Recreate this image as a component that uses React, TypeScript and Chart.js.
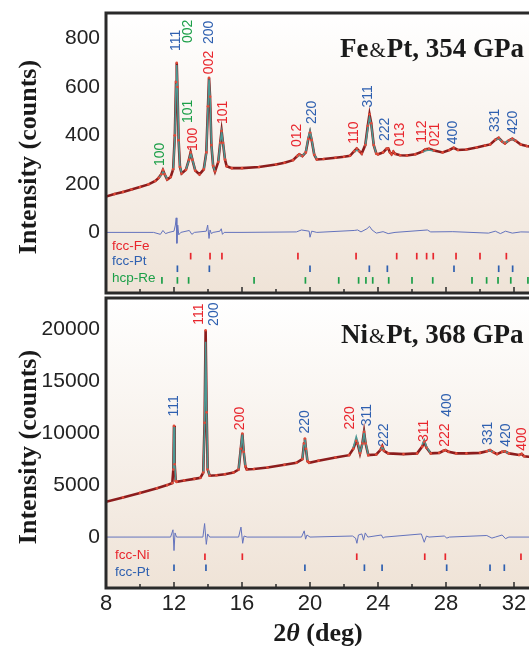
import React, { useEffect, useRef } from 'react';
import { Chart, registerables } from 'chart.js';
Chart.register(...registerables);

// ---------------- Top panel: Fe & Pt, 354 GPa ----------------
const topTheta = [8.0, 8.5, 9.0, 9.5, 10.0, 10.5, 10.9, 11.1, 11.25, 11.35, 11.45, 11.6, 11.8, 11.95, 12.05, 12.12, 12.16, 12.2, 12.27, 12.35, 12.45, 12.7, 12.88, 12.98, 13.08, 13.25, 13.5, 13.75, 13.9, 14.0, 14.06, 14.12, 14.2, 14.3, 14.41, 14.6, 14.72, 14.8, 14.88, 15.0, 15.1, 15.4, 16.0, 17.0, 18.0, 18.5, 19.0, 19.25, 19.37, 19.55, 19.75, 19.9, 20.0, 20.1, 20.25, 20.4, 20.8, 21.5, 22.0, 22.35, 22.6, 22.75, 22.9, 23.04, 23.25, 23.4, 23.5, 23.6, 23.75, 23.9, 24.0, 24.3, 24.5, 24.6, 24.7, 24.8, 24.9, 25.0, 25.3, 25.7, 26.2, 26.6, 26.8, 27.0, 27.3, 27.8, 28.2, 28.45, 28.7, 29.2, 29.8, 30.3, 30.6, 30.9, 31.1, 31.3, 31.47, 31.7, 31.9, 32.1, 32.4, 32.75, 33.2, 33.6, 34.0];
const topObs = [148, 158, 167, 177, 187, 198, 212, 225, 240, 257, 240, 218, 228, 260, 400, 620, 700, 600, 380, 270, 243, 258, 300, 330, 300, 255, 239, 260, 330, 520, 638, 560, 360, 275, 251, 290, 370, 418, 370, 300, 273, 265, 265, 270, 280, 287, 298, 315, 322, 315, 330, 385, 412, 380, 320, 301, 303, 308, 312, 316, 335, 346, 335, 325, 360, 440, 487, 450, 360, 325, 322, 330, 345, 346, 330, 322, 333, 324, 318, 317, 322, 333, 343, 345, 338, 330, 340, 349, 340, 342, 350, 358, 363, 382, 390, 375, 367, 380, 386, 378, 362, 356, 350, 348, 345];
const topCalcTheta = [11.1, 11.25, 11.35, 11.45, 11.6, null, 11.95, 12.05, 12.12, 12.16, 12.2, 12.27, 12.35, 12.45, null, 12.7, 12.88, 12.98, 13.08, 13.25, null, 13.75, 13.9, 14.0, 14.06, 14.12, 14.2, 14.3, 14.41, null, 14.6, 14.72, 14.8, 14.88, 15.0, null, 19.25, 19.37, 19.55, 19.75, 19.9, 20.0, 20.1, 20.25, 20.4, null, 22.6, 22.75, 22.9, null, 23.25, 23.4, 23.5, 23.6, 23.75, 23.9, null, 26.6, 26.8, 27.0, 27.3, null, 30.9, 31.1, 31.3, 31.47, 31.7, 31.9, 32.1];
const topCalc = [224, 238, 250, 242, 220, null, 255, 390, 610, 690, 610, 390, 272, 245, null, 258, 298, 326, 302, 256, null, 258, 325, 515, 632, 565, 365, 278, 252, null, 288, 366, 414, 372, 302, null, 312, 318, 316, 332, 390, 420, 382, 322, 302, null, 330, 340, 334, null, 355, 430, 475, 445, 360, 326, null, 330, 337, 340, 336, null, 380, 388, 376, 368, 380, 385, 378];
const topDiffTheta = [8.0, 10.8, 11.2, 11.35, 11.5, 11.7, 12.0, 12.08, 12.13, 12.17, 12.22, 12.28, 12.4, 12.9, 13.05, 13.2, 13.9, 13.98, 14.06, 14.12, 14.2, 14.3, 14.7, 14.78, 14.85, 14.95, 16.0, 19.2, 19.5, 19.95, 20.0, 20.1, 20.4, 22.6, 22.8, 23.0, 23.35, 23.5, 23.65, 23.9, 24.3, 24.6, 25.0, 26.9, 27.1, 28.4, 30.5, 30.9, 31.2, 31.5, 31.9, 32.4, 34.0];
const topDiff = [0, 0, -8, 8, -5, 0, 5, 30, 60, -45, 30, -10, 0, 8, -8, 0, 5, 30, -25, 10, -5, 0, 5, 15, -8, 0, 0, 2, 10, 5, -20, 5, 0, 8, 10, 2, 15, 25, 10, -3, 3, -5, 0, 10, 2, 3, -3, 5, -5, 5, -3, 2, 0];
const topFeTicks = [12.98, 14.12, 14.82, 19.29, 22.71, 25.1, 26.28, 26.86, 27.25, 28.59, 30.0, 31.55];
const topPtTicks = [12.2, 14.08, 20.0, 23.49, 24.55, 28.47, 31.1, 31.92];
const topReTicks = [11.29, 12.2, 12.86, 16.71, 19.73, 21.69, 22.86, 23.29, 23.69, 24.63, 26.0, 27.22, 29.53, 30.39, 31.06, 31.81, 32.82];
const topTickLevels = [-98, -150, -198];
const topYTicks = [0, 200, 400, 600, 800];
const topHklText = ['100', '111', '002', '101', '100', '200', '002', '101', '012', '220', '110', '311', '222', '013', '112', '021', '400', '331', '420'];
const topHklTheta = [11.18, 12.14, 12.84, 12.84, 13.1, 14.08, 14.06, 14.9, 19.22, 20.1, 22.6, 23.43, 24.41, 25.29, 26.6, 27.39, 28.43, 30.88, 31.96];
const topHklY = [322, 792, 829, 499, 384, 825, 701, 495, 400, 495, 412, 561, 425, 404, 416, 404, 412, 462, 454];
const topHklPhase = ['Re', 'Pt', 'Re', 'Re', 'Fe', 'Pt', 'Fe', 'Fe', 'Fe', 'Pt', 'Fe', 'Pt', 'Pt', 'Fe', 'Fe', 'Fe', 'Pt', 'Pt', 'Pt'];
const topPhaseNames = ['fcc-Fe', 'fcc-Pt', 'hcp-Re'];
const topPhaseKeys = ['Fe', 'Pt', 'Re'];
const topLegendY = [-58, -120, -190];

// ---------------- Bottom panel: Ni & Pt, 368 GPa ----------------
const botTheta = [8.0, 9.0, 10.0, 11.0, 11.6, 11.9, 11.96, 12.0, 12.04, 12.1, 12.16, 12.6, 13.2, 13.55, 13.72, 13.8, 13.86, 13.92, 13.98, 14.1, 14.5, 15.0, 15.5, 15.8, 15.93, 16.02, 16.1, 16.2, 16.28, 16.7, 17.5, 18.5, 19.2, 19.55, 19.65, 19.7, 19.76, 19.85, 19.95, 20.5, 21.5, 22.3, 22.55, 22.72, 22.8, 22.94, 23.08, 23.18, 23.27, 23.43, 23.9, 24.15, 24.25, 24.35, 24.6, 25.5, 26.3, 26.6, 26.72, 26.85, 27.1, 27.6, 27.85, 27.98, 28.15, 28.6, 29.2, 30.0, 30.4, 30.59, 30.8, 31.0, 31.3, 31.47, 31.7, 32.3, 32.45, 32.6, 33.0, 34.0];
const botObs = [3400, 3800, 4250, 4700, 5000, 5200, 6500, 10700, 7000, 5400, 5320, 5450, 5600, 5700, 6200, 11000, 19900, 12000, 6500, 5900, 5950, 6050, 6200, 6500, 8500, 9970, 8200, 6800, 6510, 6550, 6700, 6950, 7150, 7500, 9000, 9490, 8500, 7300, 7150, 7350, 7650, 7880, 8500, 9250, 9000, 8050, 9000, 10130, 9000, 7880, 7950, 8400, 8750, 8300, 8050, 7980, 8050, 8700, 9170, 8600, 8050, 8100, 8300, 8365, 8200, 8050, 8050, 8100, 8250, 8365, 8150, 7980, 8200, 8240, 8050, 7900, 8000, 7780, 7700, 7600];
const botCalcTheta = [11.96, 12.0, 12.04, 12.1, null, 13.72, 13.8, 13.86, 13.92, 13.98, 14.1, null, 15.8, 15.93, 16.02, 16.1, 16.2, null, 19.55, 19.65, 19.7, 19.76, 19.85, null, 22.55, 22.72, 22.8, 22.94, 23.08, 23.18, 23.27, 23.43, null, 24.15, 24.25, 24.35, null, 26.6, 26.72, 26.85, 27.1, null, 30.4, 30.59, 30.8, null, 31.3, 31.47, 31.7];
const botCalc = [6400, 10600, 7100, 5400, null, 6100, 10800, 18800, 12200, 6600, 5900, null, 6450, 8600, 9900, 8300, 6800, null, 7450, 8900, 9500, 8600, 7300, null, 8600, 9650, 9200, 8100, 8900, 10050, 9100, 7900, null, 8350, 8700, 8300, null, 8900, 9350, 8700, 8050, null, 8250, 8350, 8150, null, 8200, 8250, 8050];
const botDiffTheta = [8.0, 11.8, 11.94, 12.0, 12.06, 12.15, 13.7, 13.8, 13.9, 13.98, 14.1, 15.8, 15.94, 16.04, 16.12, 16.3, 19.5, 19.66, 19.74, 19.82, 20.0, 22.5, 22.68, 22.76, 22.85, 23.05, 23.15, 23.25, 23.4, 24.2, 24.3, 24.4, 26.55, 26.72, 26.85, 27.0, 27.9, 28.05, 28.2, 30.4, 30.7, 30.9, 31.3, 31.5, 31.7, 34.0];
const botDiff = [0, 0, 700, -1300, 400, 0, 0, 1300, -700, 300, 0, 0, 960, -600, 100, 0, 0, 600, -200, 200, 0, 100, -100, -600, 200, 300, -300, 400, 0, 200, -100, 0, 300, -500, 100, 0, 100, -100, 0, 150, -100, 0, 200, -150, 0, 0];
const botNiTicks = [13.82, 16.02, 22.75, 26.75, 27.96, 32.41];
const botPtTicks = [12.0, 13.88, 19.7, 23.2, 24.24, 28.04, 30.59, 31.43];
const botTickLevels = [-1890, -2950];
const botYTicks = [0, 5000, 10000, 15000, 20000];
const botHklText = ['111', '111', '200', '200', '220', '220', '311', '222', '311', '222', '400', '331', '420', '400'];
const botHklTheta = [12.0, 13.49, 14.38, 15.92, 19.7, 22.39, 23.37, 24.35, 26.7, 27.93, 28.07, 30.49, 31.53, 32.45];
const botHklY = [12620, 21440, 21440, 11410, 11090, 11470, 11730, 9810, 10220, 9810, 12690, 9970, 9810, 9420];
const botHklPhase = ['Pt', 'Ni', 'Pt', 'Ni', 'Pt', 'Ni', 'Pt', 'Pt', 'Ni', 'Ni', 'Pt', 'Pt', 'Pt', 'Ni'];
const botPhaseNames = ['fcc-Ni', 'fcc-Pt'];
const botPhaseKeys = ['Ni', 'Pt'];
const botLegendY = [-1730, -3340];

const xTicks = [8, 12, 16, 20, 24, 28, 32];

const PHASE_COLOR: Record<string, string> = { Fe: '#e8262d', Ni: '#e8262d', Pt: '#2f60b0', Re: '#1c9f48' };
const SANS = '"Liberation Sans", Arial, sans-serif';
const SERIF = '"Liberation Serif", "Times New Roman", serif';

function pts(xs: (number | null)[], ys: (number | null)[]) {
  return xs.map((x, i) => ({ x: x as any, y: ys[i] as any }));
}

function makeConfig(p: any) {
  const tickSets = p.phaseKeys.map((k: string, j: number) => ({
    type: 'line',
    data: (p.phaseTicks[j] as number[]).map((x) => ({ x, y: p.tickLevels[j] })),
    showLine: false,
    pointStyle: 'line',
    rotation: 90,
    pointRadius: 3.3,
    pointBorderWidth: 1.7,
    borderColor: PHASE_COLOR[k],
    backgroundColor: PHASE_COLOR[k],
    order: 4,
  }));
  const decor = {
    id: 'decor',
    beforeDraw(chart: any) {
      const { ctx, chartArea: a } = chart;
      const g = ctx.createLinearGradient(0, a.top, 0, a.bottom);
      g.addColorStop(0, '#ffffff');
      g.addColorStop(1, '#efe3d7');
      ctx.save();
      ctx.fillStyle = g;
      ctx.fillRect(a.left, a.top, a.right - a.left, a.bottom - a.top);
      ctx.restore();
    },
    afterDatasetsDraw(chart: any) {
      const { ctx, chartArea: a } = chart;
      const xs = chart.scales.x, ys = chart.scales.y;
      ctx.save();
      ctx.font = `14px ${SANS}`;
      ctx.textAlign = 'center';
      ctx.textBaseline = 'middle';
      p.hklText.forEach((t: string, i: number) => {
        ctx.save();
        ctx.translate(xs.getPixelForValue(p.hklTheta[i]), ys.getPixelForValue(p.hklY[i]));
        ctx.rotate(-Math.PI / 2);
        ctx.fillStyle = PHASE_COLOR[p.hklPhase[i]];
        ctx.fillText(t, 0, 0);
        ctx.restore();
      });
      ctx.font = `13.5px ${SANS}`;
      ctx.textAlign = 'left';
      p.phaseNames.forEach((n: string, j: number) => {
        ctx.fillStyle = PHASE_COLOR[p.phaseKeys[j]];
        ctx.fillText(n, a.left + 6 + p.legendDx, ys.getPixelForValue(p.legendY[j]));
      });
      ctx.restore();
    },
    afterDraw(chart: any) {
      const { ctx, chartArea: a } = chart;
      const xs = chart.scales.x;
      ctx.save();
      // inward ticks at bottom
      ctx.strokeStyle = '#2a2a2a';
      ctx.lineWidth = 1.5;
      for (let v = 10; v <= 34; v += 2) {
        const px = xs.getPixelForValue(v);
        const len = v % 4 === 0 ? 6 : 4;
        ctx.beginPath();
        ctx.moveTo(px, a.bottom);
        ctx.lineTo(px, a.bottom - len);
        ctx.stroke();
      }
      // frame
      ctx.lineWidth = 3;
      ctx.strokeStyle = '#2a2a2a';
      ctx.strokeRect(a.left, a.top, a.right - a.left, a.bottom - a.top);
      // y title
      ctx.fillStyle = '#1a1a1a';
      ctx.font = `bold 26px ${SERIF}`;
      ctx.textAlign = 'center';
      ctx.textBaseline = 'middle';
      ctx.save();
      ctx.translate(29, (a.top + a.bottom) / 2 + 4);
      ctx.rotate(-Math.PI / 2);
      ctx.fillText('Intensity (counts)', 0, 0);
      ctx.restore();
      // panel title
      ctx.textAlign = 'left';
      ctx.textBaseline = 'alphabetic';
      let tx = a.left + p.titleDx;
      const ty = a.top + p.titleDy;
      ctx.font = `bold 27px ${SERIF}`;
      ctx.fillText(p.titleA, tx, ty);
      tx += ctx.measureText(p.titleA).width + 1;
      ctx.font = `21px ${SERIF}`;
      ctx.fillText('&', tx, ty);
      tx += ctx.measureText('&').width + 1;
      ctx.font = `bold 27px ${SERIF}`;
      ctx.fillText(p.titleB, tx, ty);
      // x title
      if (p.showX) {
        const parts: [string, string][] = [
          ['2', `bold 26px ${SERIF}`],
          ['\u03B8', `italic bold 26px ${SERIF}`],
          [' (deg)', `bold 26px ${SERIF}`],
        ];
        let w = 0;
        parts.forEach(([s, f]) => { ctx.font = f; w += ctx.measureText(s).width; });
        let x0 = 318 - w / 2;
        const y0 = a.bottom + 53;
        parts.forEach(([s, f]) => { ctx.font = f; ctx.fillText(s, x0, y0); x0 += ctx.measureText(s).width; });
      }
      ctx.restore();
    },
  };
  return {
    type: 'line',
    data: {
      datasets: [
        { data: pts(p.theta, p.obs), showLine: false, pointRadius: 1.3, pointBorderWidth: 0, backgroundColor: '#e24b38', borderColor: '#e24b38', order: 0 },
        { data: pts(p.calcTheta, p.calc), borderColor: '#4c9893', borderWidth: 1.6, pointRadius: 0, spanGaps: false, order: 1 },
        { data: pts(p.theta, p.obs), borderColor: '#8c1c1c', borderWidth: 2.6, pointRadius: 0, order: 2 },
        { data: pts(p.diffTheta, p.diff), borderColor: '#6473bd', borderWidth: 1, pointRadius: 0, order: 3 },
        ...tickSets,
      ],
    },
    options: {
      animation: false,
      responsive: false,
      devicePixelRatio: 1,
      layout: { padding: { left: 0, right: 12, top: 22, bottom: p.showX ? 0 : 22 } },
      plugins: { legend: { display: false }, tooltip: { enabled: false } },
      elements: { line: { tension: 0 } },
      scales: {
        x: {
          type: 'linear',
          min: 8,
          max: 34,
          display: p.showX,
          grid: { display: false, drawTicks: false },
          border: { display: false },
          afterBuildTicks: (s: any) => { s.ticks = xTicks.map((v) => ({ value: v })); },
          afterFit: (s: any) => { s.height = p.showX ? 60 : 0; },
          ticks: { padding: 3, color: '#222', font: { size: 22, family: SANS }, callback: (v: any) => String(v) },
        },
        y: {
          type: 'linear',
          min: p.yMin,
          max: p.yMax,
          grid: { display: false, drawTicks: false },
          border: { display: false },
          afterBuildTicks: (s: any) => { s.ticks = p.yTicks.map((v: number) => ({ value: v })); },
          afterFit: (s: any) => { s.width = 106; },
          ticks: { padding: 6, color: '#222', font: { size: 21, family: SANS }, callback: (v: any) => String(v) },
        },
      },
    },
    plugins: [decor],
  } as any;
}

const topPanel = {
  theta: topTheta, obs: topObs, calcTheta: topCalcTheta, calc: topCalc,
  diffTheta: topDiffTheta, diff: topDiff,
  phaseTicks: [topFeTicks, topPtTicks, topReTicks], tickLevels: topTickLevels,
  phaseKeys: topPhaseKeys, phaseNames: topPhaseNames, legendY: topLegendY, legendDx: 0,
  hklText: topHklText, hklTheta: topHklTheta, hklY: topHklY, hklPhase: topHklPhase,
  yTicks: topYTicks, yMin: -250, yMax: 905,
  titleA: 'Fe', titleB: 'Pt, 354 GPa', titleDx: 234, titleDy: 44, showX: false,
};
const botPanel = {
  theta: botTheta, obs: botObs, calcTheta: botCalcTheta, calc: botCalc,
  diffTheta: botDiffTheta, diff: botDiff,
  phaseTicks: [botNiTicks, botPtTicks], tickLevels: botTickLevels,
  phaseKeys: botPhaseKeys, phaseNames: botPhaseNames, legendY: botLegendY, legendDx: 3,
  hklText: botHklText, hklTheta: botHklTheta, hklY: botHklY, hklPhase: botHklPhase,
  yTicks: botYTicks, yMin: -4900, yMax: 23000,
  titleA: 'Ni', titleB: 'Pt, 368 GPa', titleDx: 235, titleDy: 45, showX: true,
};

export default function App() {
  const topRef = useRef<HTMLCanvasElement>(null);
  const botRef = useRef<HTMLCanvasElement>(null);
  useEffect(() => {
    const c1 = new Chart(topRef.current as HTMLCanvasElement, makeConfig(topPanel));
    const c2 = new Chart(botRef.current as HTMLCanvasElement, makeConfig(botPanel));
    return () => { c1.destroy(); c2.destroy(); };
  }, []);
  return (
    <div style={{ position: 'fixed', left: 0, top: 0, width: 529, height: 646, overflow: 'hidden', background: '#fff' }}>
      <canvas ref={topRef} width={560} height={324} style={{ position: 'absolute', left: 0, top: -9, width: 560, height: 324 }} />
      <canvas ref={botRef} width={560} height={372} style={{ position: 'absolute', left: 0, top: 276, width: 560, height: 372 }} />
    </div>
  );
}
